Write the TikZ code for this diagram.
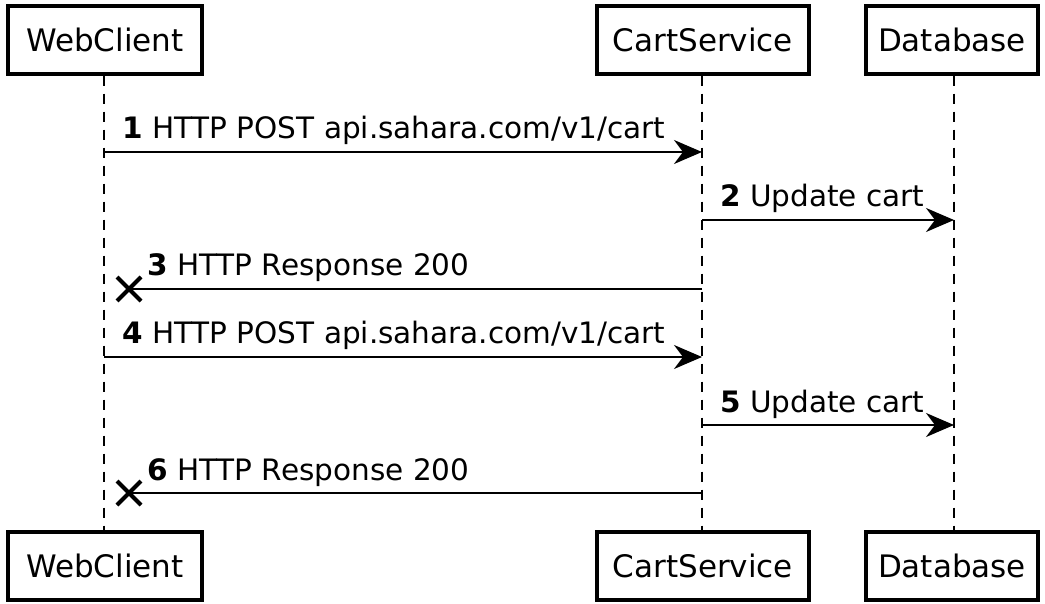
\documentclass[tikz,border=0pt]{standalone}
\usepackage{fontspec}
\setmainfont{DejaVu Sans}
\usetikzlibrary{arrows.meta,calc}
\begin{document}
\begin{tikzpicture}[x=1pt,y=-1pt,
  participant/.style={draw,line width=3.4pt,minimum height=68pt,inner sep=0pt,font=\fontsize{31}{37}\selectfont},
  lifeline/.style={line width=2.2pt,dash pattern=on 10pt off 8pt},
  msg/.style={line width=2.2pt,-{Stealth[length=28pt,width=24pt,inset=9pt]}},
  lostmsg/.style={line width=2.2pt},
  cross/.style={line width=4pt},
  lbl/.style={anchor=base west,inner sep=0pt,font=\fontsize{29.5}{35}\selectfont}]
\useasboundingbox (0,0) rectangle (1045,604);

% participants, top row
\node[participant,minimum width=194pt] (wcT) at (105,40) {WebClient};
\node[participant,minimum width=212pt] (csT) at (703,40) {CartService};
\node[participant,minimum width=172pt] (dbT) at (952,40) {Database};
% participants, bottom row
\node[participant,minimum width=194pt] (wcB) at (105,566) {WebClient};
\node[participant,minimum width=212pt] (csB) at (703,566) {CartService};
\node[participant,minimum width=172pt] (dbB) at (952,566) {Database};

% lifelines
\draw[lifeline] ([xshift=-1pt]wcT.south) -- ([xshift=-1pt]wcB.north);
\draw[lifeline] ([xshift=-1pt]csT.south) -- ([xshift=-1pt]csB.north);
\draw[lifeline] ([xshift=2pt]dbT.south) -- ([xshift=2pt]dbB.north);

% message rows
\coordinate (r1) at (0,152);
\coordinate (r2) at (0,220);
\coordinate (r3) at (0,289);
\coordinate (r4) at (0,357);
\coordinate (r5) at (0,425);
\coordinate (r6) at (0,493);

\coordinate (wc1) at ([xshift=-1pt]wcT.south |- r1);
\coordinate (cs1) at ([xshift=-1pt]csT.south |- r1);
\coordinate (cs2) at ([xshift=-1pt]csT.south |- r2);
\coordinate (db2) at ([xshift=2pt]dbT.south |- r2);
\coordinate (cs3) at ([xshift=-1pt]csT.south |- r3);
\coordinate (lost3) at ([xshift=24pt]wcT.south |- r3);
\coordinate (wc4) at ([xshift=-1pt]wcT.south |- r4);
\coordinate (cs4) at ([xshift=-1pt]csT.south |- r4);
\coordinate (cs5) at ([xshift=-1pt]csT.south |- r5);
\coordinate (db5) at ([xshift=2pt]dbT.south |- r5);
\coordinate (cs6) at ([xshift=-1pt]csT.south |- r6);
\coordinate (lost6) at ([xshift=24pt]wcT.south |- r6);

% 1
\draw[msg] (wc1) -- (cs1);
\node[lbl] (l1) at ($(wc1)+(18,-13)$) {\textbf{1} HTTP POST api.sahara.com/v1/cart};
% 2
\draw[msg] (cs2) -- (db2);
\node[lbl] (l2) at ($(cs2)+(18,-13)$) {\textbf{2} Update cart};
% 3 (lost response)
\draw[lostmsg] (cs3) -- (lost3);
\draw[cross] ($(lost3)+(-12,-12)$) -- ($(lost3)+(12,12)$)
             ($(lost3)+(-12,12)$) -- ($(lost3)+(12,-12)$);
\node[lbl] (l3) at ($(lost3)+(18,-13)$) {\textbf{3} HTTP Response 200};
% 4
\draw[msg] (wc4) -- (cs4);
\node[lbl] (l4) at ($(wc4)+(18,-13)$) {\textbf{4} HTTP POST api.sahara.com/v1/cart};
% 5
\draw[msg] (cs5) -- (db5);
\node[lbl] (l5) at ($(cs5)+(18,-13)$) {\textbf{5} Update cart};
% 6 (lost response)
\draw[lostmsg] (cs6) -- (lost6);
\draw[cross] ($(lost6)+(-12,-12)$) -- ($(lost6)+(12,12)$)
             ($(lost6)+(-12,12)$) -- ($(lost6)+(12,-12)$);
\node[lbl] (l6) at ($(lost6)+(18,-13)$) {\textbf{6} HTTP Response 200};
\end{tikzpicture}
\end{document}
